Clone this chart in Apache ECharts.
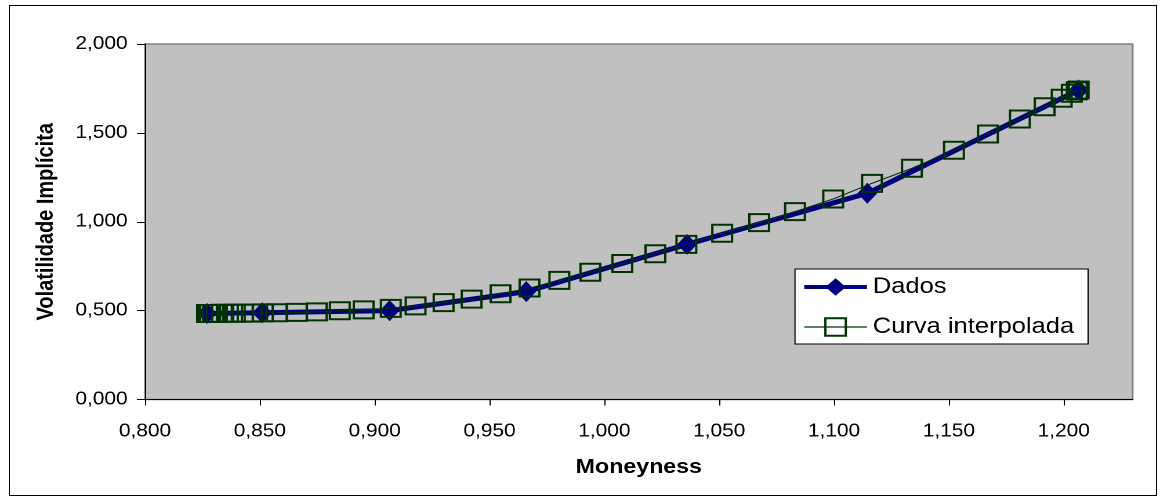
<!DOCTYPE html>
<html>
<head>
<meta charset="utf-8">
<script src="https://cdn.jsdelivr.net/npm/echarts@6/dist/echarts.min.js"></script>
<style>
  html, body { margin: 0; padding: 0; background: #fff; overflow: hidden; }
  #frame { position: absolute; left: 9px; top: 5px; width: 1148px; height: 491px; border: 1px solid #000; box-sizing: border-box; }
  #chart { position: absolute; left: 0; top: 0; height: 503px; transform-origin: 0 0; }
</style>
</head>
<body>
<div id="frame"></div>
<div id="chart"></div>
<script>
// Observed implied volatilities (Dados)
const dadosX = [0.827, 0.851, 0.9065, 0.966, 1.036, 1.1145, 1.2065];
const dadosY = [0.484, 0.488, 0.500, 0.607, 0.873, 1.160, 1.741];

// Interpolated volatility curve (Curva interpolada)
const curvaX = [0.8270, 0.8274, 0.8283, 0.8296, 0.8313, 0.8335, 0.8361, 0.8391, 0.8426, 0.8465,
  0.8513, 0.8574, 0.8661, 0.8748, 0.8848, 0.8952, 0.9070, 0.9178, 0.9300, 0.9422,
  0.9548, 0.9674, 0.9804, 0.9939, 1.0078, 1.0222, 1.0357, 1.0513, 1.0674, 1.0830,
  1.0996, 1.1165, 1.1339, 1.1522, 1.1670, 1.1809, 1.1917, 1.1991, 1.2035, 1.2057, 1.2065];
const curvaY = [0.484, 0.484, 0.484, 0.484, 0.484, 0.485, 0.485, 0.485, 0.486, 0.486,
  0.487, 0.488, 0.490, 0.493, 0.499, 0.504, 0.513, 0.527, 0.545, 0.565,
  0.595, 0.627, 0.670, 0.716, 0.765, 0.820, 0.873, 0.935, 0.995, 1.057,
  1.128, 1.216, 1.301, 1.402, 1.494, 1.578, 1.647, 1.695, 1.723, 1.736, 1.741];

// Axis ticks
const xTicks = [0.80, 0.85, 0.90, 0.95, 1.00, 1.05, 1.10, 1.15, 1.20];
const yTicks = [0.0, 0.5, 1.0, 1.5, 2.0];

// Text is drawn slightly wide, so the whole chart is laid out narrower and stretched.
const SX = 1.16;
const W = 1165, H = 503;
const el = document.getElementById('chart');
el.style.width = (W / SX) + 'px';
el.style.transform = 'scaleX(' + SX + ')';

const fmt = v => v.toFixed(3).replace('.', ',');
const font = '"Liberation Sans", Arial, sans-serif';

const chart = echarts.init(el, null, { renderer: 'canvas', devicePixelRatio: 2 });
chart.setOption({
  animation: false,
  backgroundColor: 'transparent',
  textStyle: { fontFamily: font, color: '#000' },
  grid: {
    left: 145 / SX, right: (W - 1133) / SX, top: 44, bottom: H - 399.5,
    show: true, backgroundColor: '#c0c0c0', borderColor: '#808080', borderWidth: 1.5
  },
  legend: {
    orient: 'vertical',
    left: 795 / SX, top: 269,
    backgroundColor: '#fff', borderColor: '#000', borderWidth: 1,
    padding: [5, 12, 4, 6],
    itemWidth: 54, itemHeight: 22, itemGap: 14,
    textStyle: { fontFamily: font, fontSize: 22, color: '#000', lineHeight: 26 },
    data: [
      { name: 'Dados', lineStyle: { width: 4, color: '#000080' } },
      { name: 'Curva interpolada', lineStyle: { width: 1.2, color: '#003300' } }
    ]
  },
  xAxis: {
    type: 'value', min: 0.8, max: 1.23,
    name: 'Moneyness', nameLocation: 'middle', nameGap: 58,
    nameTextStyle: { fontFamily: font, fontSize: 20, fontWeight: 'bold', color: '#000' },
    axisLine: { show: true, onZero: false, lineStyle: { color: '#000', width: 1 } },
    axisTick: { show: true, customValues: xTicks, length: 6, lineStyle: { color: '#000' } },
    axisLabel: { customValues: xTicks, formatter: fmt, fontSize: 18, margin: 23, color: '#000', fontFamily: font },
    splitLine: { show: false }
  },
  yAxis: {
    type: 'value', min: 0, max: 2, interval: 0.5,
    name: 'Volatilidade Implícita', nameLocation: 'middle', nameGap: 75, nameRotate: 90,
    nameTextStyle: { fontFamily: font, fontSize: 20, fontWeight: 'bold', color: '#000' },
    axisLine: { show: true, lineStyle: { color: '#000', width: 1 } },
    axisTick: { show: true, customValues: yTicks, length: 7, lineStyle: { color: '#000' } },
    axisLabel: { customValues: yTicks, formatter: fmt, fontSize: 18, margin: 15, color: '#000', fontFamily: font },
    splitLine: { show: false }
  },
  series: [
    {
      name: 'Dados', type: 'line',
      data: dadosX.map((x, i) => [x, dadosY[i]]),
      symbol: 'diamond', symbolSize: [17, 21],
      lineStyle: { color: '#000080', width: 5 },
      itemStyle: { color: '#000080' },
      z: 2
    },
    {
      name: 'Curva interpolada', type: 'line',
      data: curvaX.map((x, i) => [x, curvaY[i]]),
      symbol: 'rect', symbolSize: 17,
      lineStyle: { color: '#003300', width: 1 },
      itemStyle: { color: 'rgba(0,0,0,0)', borderColor: '#003300', borderWidth: 2 },
      z: 3
    }
  ]
});
</script>
</body>
</html>
